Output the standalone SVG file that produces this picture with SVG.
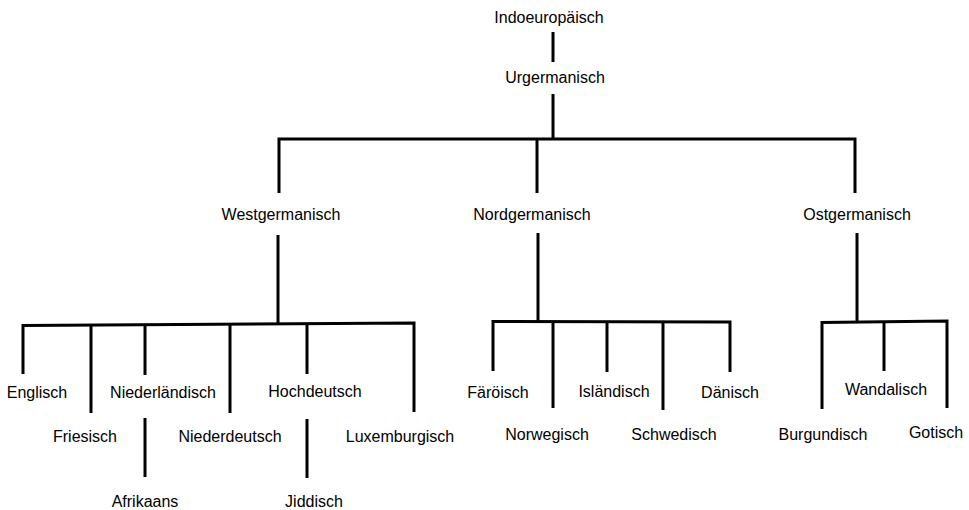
<svg xmlns="http://www.w3.org/2000/svg" width="969" height="510" viewBox="0 0 969 510">
<style>
text{font-family:"Liberation Sans",Arial,sans-serif;font-size:16px;fill:#000;text-anchor:middle}
.c line,.c polyline{stroke:#000;stroke-width:3;fill:none}
</style>
<rect width="969" height="510" fill="#fff"/>
<g class="c" id="connectors">
<line x1="553" y1="32" x2="553" y2="62"/>
<line x1="553" y1="94" x2="553" y2="139"/>
<polyline points="279,193 279,139 855,139 855,193"/>
<line x1="537" y1="139" x2="537" y2="193"/>
<line x1="278" y1="235" x2="278" y2="324"/>
<polyline points="23,374 23,325.5 414,323 414,412"/>
<line x1="91" y1="325" x2="91" y2="413"/>
<line x1="145" y1="325" x2="145" y2="375"/>
<line x1="230" y1="324.5" x2="230" y2="413"/>
<line x1="307" y1="324" x2="307" y2="374"/>
<line x1="145" y1="418" x2="145" y2="477"/>
<line x1="307" y1="419" x2="307" y2="478"/>
<line x1="538" y1="233" x2="538" y2="321"/>
<polyline points="493,371 493,321.5 730,322 730,372"/>
<line x1="553" y1="321.5" x2="553" y2="408"/>
<line x1="607" y1="321.5" x2="607" y2="372"/>
<line x1="663" y1="322" x2="663" y2="410"/>
<line x1="857" y1="233" x2="857" y2="321"/>
<polyline points="822,409 822,322.5 947,321 947,408"/>
<line x1="884" y1="321.5" x2="884" y2="371"/>
</g>
<g id="n-indoeuropaeisch"><text x="549" y="23">Indoeuropäisch</text></g>
<g id="n-urgermanisch"><text x="555" y="83">Urgermanisch</text></g>
<g id="n-westgermanisch"><text x="281" y="220">Westgermanisch</text></g>
<g id="n-nordgermanisch"><text x="532" y="220">Nordgermanisch</text></g>
<g id="n-ostgermanisch"><text x="857" y="220">Ostgermanisch</text></g>
<g id="n-englisch"><text x="37" y="398">Englisch</text></g>
<g id="n-friesisch"><text x="85" y="442">Friesisch</text></g>
<g id="n-niederlaendisch"><text x="163" y="398">Niederländisch</text></g>
<g id="n-afrikaans"><text x="145" y="507">Afrikaans</text></g>
<g id="n-niederdeutsch"><text x="230" y="442">Niederdeutsch</text></g>
<g id="n-hochdeutsch"><text x="315" y="397">Hochdeutsch</text></g>
<g id="n-jiddisch"><text x="314" y="507">Jiddisch</text></g>
<g id="n-luxemburgisch"><text x="400" y="442">Luxemburgisch</text></g>
<g id="n-faeroeisch"><text x="498" y="398">Färöisch</text></g>
<g id="n-norwegisch"><text x="547" y="440">Norwegisch</text></g>
<g id="n-islaendisch"><text x="614" y="397">Isländisch</text></g>
<g id="n-schwedisch"><text x="674" y="440">Schwedisch</text></g>
<g id="n-daenisch"><text x="730" y="398">Dänisch</text></g>
<g id="n-burgundisch"><text x="823" y="440">Burgundisch</text></g>
<g id="n-wandalisch"><text x="886" y="395">Wandalisch</text></g>
<g id="n-gotisch"><text x="936" y="438">Gotisch</text></g>
</svg>
